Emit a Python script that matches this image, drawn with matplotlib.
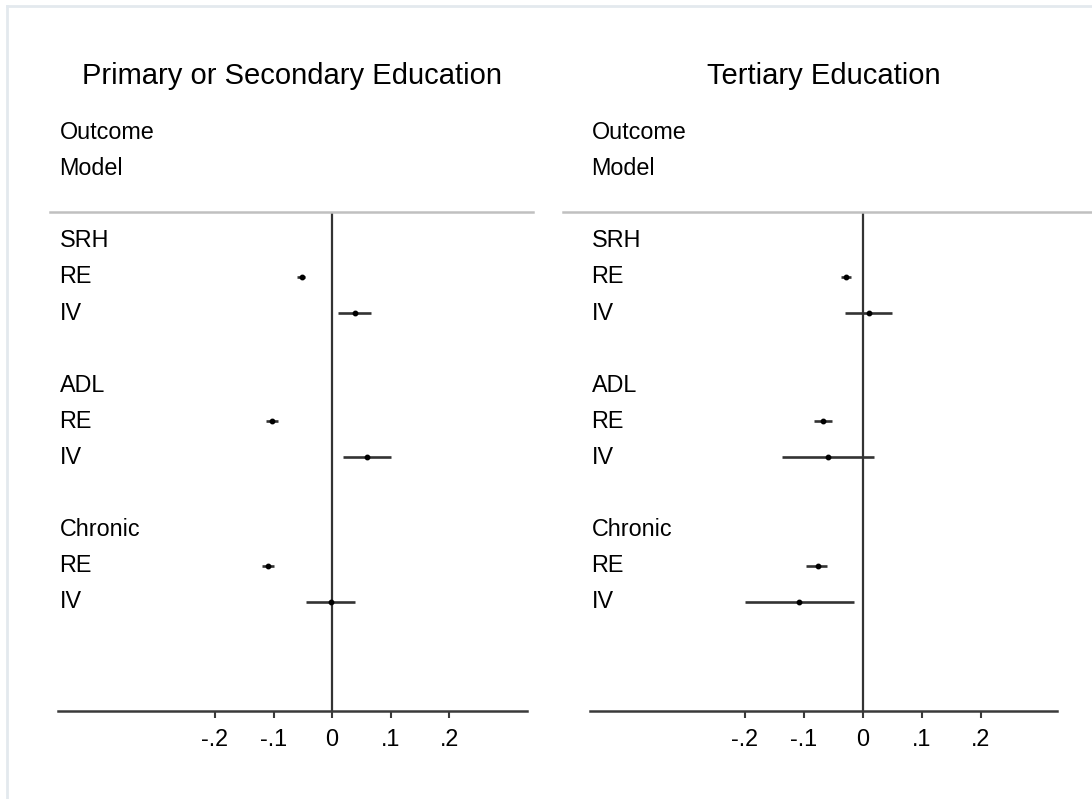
import matplotlib
matplotlib.use("Agg")
import matplotlib.pyplot as plt
from matplotlib.lines import Line2D
from matplotlib.transforms import blended_transform_factory

plt.rcParams['font.family'] = ['Liberation Sans', 'DejaVu Sans']

# rows: outcome header, then RE and IV estimates
outcomes = ["SRH", "ADL", "Chronic"]
models = ["RE", "IV"]
titles = ["Primary or Secondary Education", "Tertiary Education"]

# point estimates and 95% CI, order: SRH RE, SRH IV, ADL RE, ADL IV, Chronic RE, Chronic IV
est_prim = [-0.051, 0.040, -0.102, 0.060, -0.110, -0.002]
lo_prim = [-0.060, 0.011, -0.113, 0.019, -0.120, -0.044]
hi_prim = [-0.047, 0.067, -0.093, 0.100, -0.100, 0.039]

est_tert = [-0.029, 0.011, -0.067, -0.060, -0.077, -0.108]
lo_tert = [-0.038, -0.030, -0.083, -0.137, -0.096, -0.200]
hi_tert = [-0.021, 0.050, -0.053, 0.018, -0.061, -0.015]

ticks = [-0.2, -0.1, 0, 0.1, 0.2]
tick_labels = ["-.2", "-.1", "0", ".1", ".2"]

W, H = 1092, 799
fig = plt.figure(figsize=(W / 100, H / 100), dpi=100)

# light frame of the screenshot
fig.add_artist(Line2D([7 / W, 1], [1 - 6 / H, 1 - 6 / H], color='#e3e9ee', lw=2))
fig.add_artist(Line2D([7 / W, 7 / W], [0, 1 - 6 / H], color='#e3e9ee', lw=2))

row_px0, row_step = 132.5, 36.1   # pixel y of first row and row spacing
ax_top, ax_bot = 212, 711
fs = 16.8

panels = [
    dict(left=58, right=527, zero=332, scale=585, sep=(50, 533), title_x=292,
         est=est_prim, lo=lo_prim, hi=hi_prim),
    dict(left=590, right=1057, zero=863, scale=590, sep=(563, 1092), title_x=824,
         est=est_tert, lo=lo_tert, hi=hi_tert),
]

for p, title in zip(panels, titles):
    ax = fig.add_axes([p['left'] / W, 1 - ax_bot / H, (p['right'] - p['left']) / W,
                       (ax_bot - ax_top) / H])
    ax.set_xlim((p['left'] - p['zero']) / p['scale'], (p['right'] - p['zero']) / p['scale'])
    ax.set_ylim((ax_bot - row_px0) / row_step, (ax_top - row_px0) / row_step)
    for s in ['top', 'left', 'right']:
        ax.spines[s].set_visible(False)
    ax.spines['bottom'].set_color('#3a3a3a')
    ax.spines['bottom'].set_linewidth(1.8)
    ax.set_yticks([])
    ax.set_xticks(ticks)
    ax.set_xticklabels(tick_labels, fontsize=fs)
    ax.tick_params(axis='x', direction='out', length=5, width=1.5, color='#3a3a3a', pad=7)
    ax.axvline(0, color='#333333', lw=1.6, zorder=1)

    tr = blended_transform_factory(ax.transAxes, ax.transData)
    lx = 1.5 / (p['right'] - p['left'])
    ax.text(lx, 0, "Outcome", transform=tr, fontsize=fs, va='center', ha='left', clip_on=False)
    ax.text(lx, 1, "Model", transform=tr, fontsize=fs, va='center', ha='left', clip_on=False)

    k = 0
    for i, oc in enumerate(outcomes):
        r = 3 + 4 * i
        ax.text(lx, r, oc, transform=tr, fontsize=fs, va='center', ha='left')
        for j, m in enumerate(models):
            y = r + 1 + j
            ax.text(lx, y, m, transform=tr, fontsize=fs, va='center', ha='left')
            ax.hlines(y, p['lo'][k], p['hi'][k], color='#333333', lw=1.9, zorder=3)
            ax.plot(p['est'][k], y, 'o', color='black', ms=3.2, zorder=4)
            k += 1

    fig.add_artist(Line2D([p['sep'][0] / W, p['sep'][1] / W], [1 - ax_top / H, 1 - ax_top / H],
                          color='#c0c0c0', lw=1.8))
    fig.text(p['title_x'] / W, 1 - 76.5 / H, title, fontsize=21.0, ha='center', va='center')

fig.savefig("out.png", dpi=100)
